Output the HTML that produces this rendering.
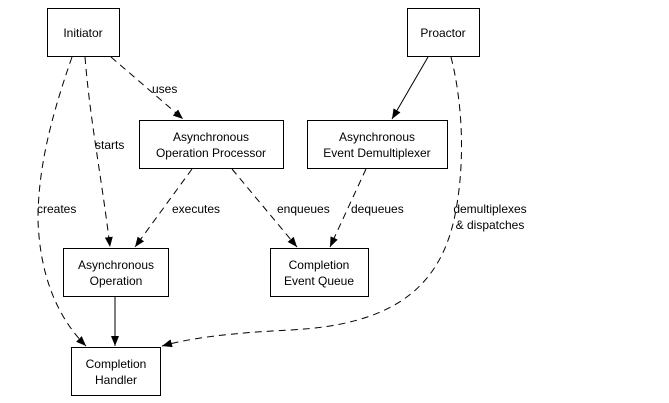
<!DOCTYPE html>
<html><head><style>
html,body{margin:0;padding:0;background:#fff;}
svg{display:block;}
text{font-family:"Liberation Sans",Helvetica,sans-serif;font-size:12px;fill:#000;}
</style></head><body>
<svg width="669" height="403" viewBox="0 0 669 403" xmlns="http://www.w3.org/2000/svg">
<defs>
<marker id="a" markerWidth="10" markerHeight="8" refX="10" refY="4" orient="auto" markerUnits="userSpaceOnUse">
<path d="M0,0 L10,4 L0,8 z" fill="#000"/>
</marker>
</defs>
<g fill="#fff" stroke="#000" stroke-width="1">
<rect x="47.5" y="8.5" width="72" height="48"/>
<rect x="407.5" y="8.5" width="72" height="48"/>
<rect x="139.5" y="120.5" width="144" height="48"/>
<rect x="307.5" y="120.5" width="140" height="48"/>
<rect x="63.5" y="248.5" width="105" height="48"/>
<rect x="270.5" y="248.5" width="98" height="48"/>
<rect x="71.5" y="347.5" width="89" height="48"/>
</g>
<g fill="none" stroke="#000" stroke-width="1">
<g stroke-dasharray="7,5">
<path d="M111,57 L183,119" marker-end="url(#a)"/>
<path d="M85,57 C90,120 102,180 110,247" marker-end="url(#a)"/>
<path d="M72,57 C50,120 38,170 38,220 C40,280 60,320 86,346" marker-end="url(#a)"/>
<path d="M192,169 L135,247" marker-end="url(#a)"/>
<path d="M232,169 L297,247" marker-end="url(#a)"/>
<path d="M366,169 L330,247" marker-end="url(#a)"/>
<path d="M451,57 C462,100 466,160 455,215 C440,290 390,325 290,330 C230,333 190,338 162,346" marker-end="url(#a)"/>
</g>
<path d="M428,57 L392,119" marker-end="url(#a)"/>
<path d="M115,296 L115,346" marker-end="url(#a)"/>
</g>
<g text-anchor="middle">
<text x="83" y="37">Initiator</text>
<text x="443" y="37">Proactor</text>
<text x="211" y="141">Asynchronous</text>
<text x="211" y="157">Operation Processor</text>
<text x="377" y="141">Asynchronous</text>
<text x="377" y="157">Event Demultiplexer</text>
<text x="116" y="269">Asynchronous</text>
<text x="116" y="285">Operation</text>
<text x="319" y="269">Completion</text>
<text x="319" y="285">Event Queue</text>
<text x="116" y="368">Completion</text>
<text x="116" y="384">Handler</text>
<text x="490" y="213">demultiplexes</text>
<text x="490" y="221" dy="8">&amp; dispatches</text>
</g>
<text x="152" y="93">uses</text>
<text x="95" y="149">starts</text>
<text x="37" y="213">creates</text>
<text x="172" y="213">executes</text>
<text x="277" y="213">enqueues</text>
<text x="351" y="213">dequeues</text>
</svg>
</body></html>
